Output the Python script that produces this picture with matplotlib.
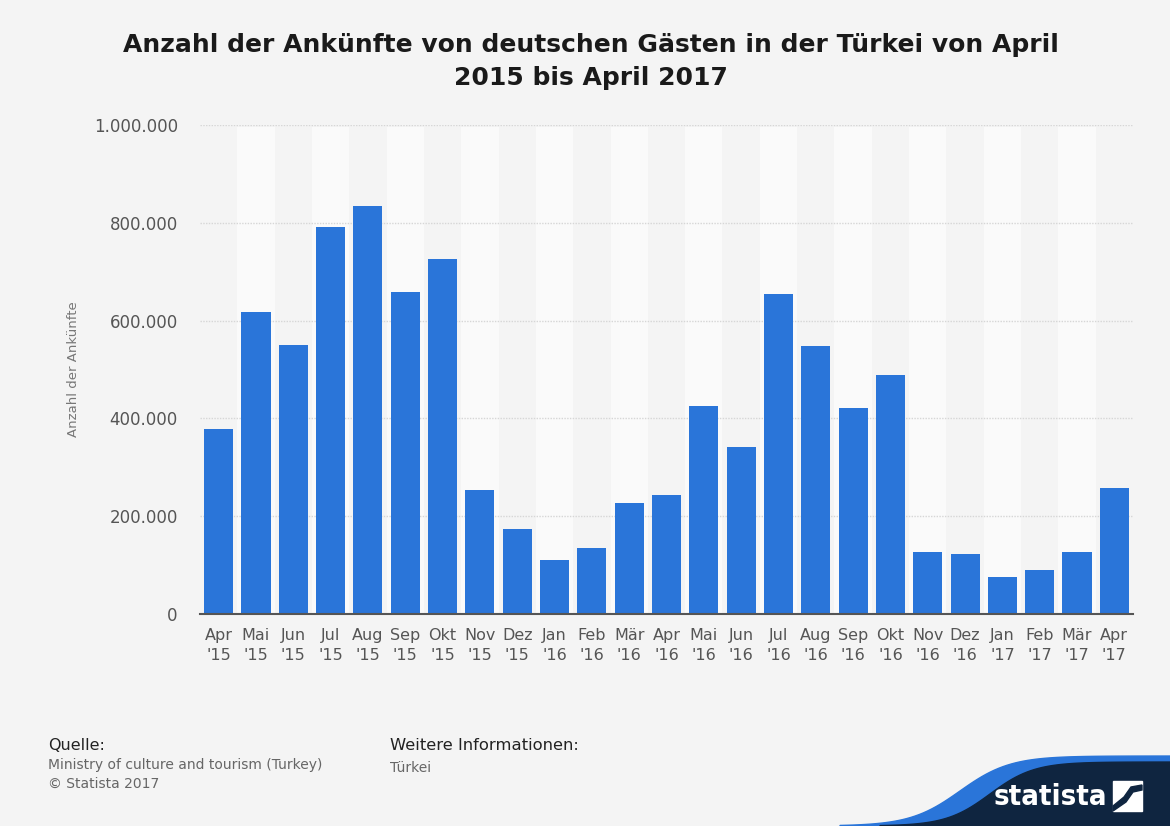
import matplotlib
matplotlib.use("Agg")
import matplotlib.pyplot as plt
from matplotlib.ticker import FuncFormatter
from matplotlib.patches import Polygon
import numpy as np

# Ankünfte deutscher Gäste in der Türkei, Apr 2015 - Apr 2017
months = ["Apr", "Mai", "Jun", "Jul", "Aug", "Sep", "Okt", "Nov", "Dez",
          "Jan", "Feb", "Mär", "Apr", "Mai", "Jun", "Jul", "Aug", "Sep",
          "Okt", "Nov", "Dez", "Jan", "Feb", "Mär", "Apr"]
years = ["'15"] * 9 + ["'16"] * 12 + ["'17"] * 4
arrivals = [378000, 618000, 551000, 791000, 835000, 658000, 725000,
            253000, 174000, 110000, 135000, 228000, 244000, 425000,
            342000, 654000, 549000, 422000, 488000, 126000, 123000,
            75000, 91000, 126000, 258000]
yticks = [0, 200000, 400000, 600000, 800000, 1000000]

BG = "#f4f4f4"
BAR = "#2a75d9"
NAVY = "#0f2540"

W, H = 1170, 826
fig = plt.figure(figsize=(W / 100, H / 100), dpi=100, facecolor=BG)
ax = fig.add_axes([200 / W, 1 - 614 / H, 933 / W, 489 / H])
ax.set_facecolor(BG)

x = np.arange(len(arrivals))
# alternating column bands
for i in x:
    if i % 2 == 1:
        ax.axvspan(i - 0.5, i + 0.5, ymax=0.995, color="#fafafa", zorder=0, lw=0)

ax.bar(x, arrivals, width=0.78, color=BAR, zorder=3)

ax.set_xlim(-0.5, len(arrivals) - 0.5)
ax.set_ylim(0, 1000000)
ax.set_yticks(yticks)
ax.yaxis.set_major_formatter(FuncFormatter(lambda v, p: f"{int(v):,}".replace(",", ".")))
ax.grid(axis="y", color="#d6d6d6", linestyle=(0, (1, 1)), linewidth=1, zorder=1)
ax.set_xticks(x)
ax.set_xticklabels([f"{m}\n{y}" for m, y in zip(months, years)],
                   fontsize=11.5, color="#555555", linespacing=1.45)
for lbl in ax.get_yticklabels():
    lbl.set_fontsize(12)
    lbl.set_color("#555555")
ax.tick_params(axis="both", length=0)
ax.tick_params(axis="y", pad=16)
ax.tick_params(axis="x", pad=10)

for side in ["top", "right", "left"]:
    ax.spines[side].set_visible(False)
ax.spines["bottom"].set_color("#555555")
ax.spines["bottom"].set_linewidth(1.5)
ax.spines["bottom"].set_zorder(4)

ax.set_ylabel("Anzahl der Ankünfte", fontsize=9.5, color="#777777")
ax.yaxis.set_label_coords((80 - 200) / 933, 0.5)

fig.text(0.505, 1 - 45 / H, "Anzahl der Ankünfte von deutschen Gästen in der Türkei von April",
         ha="center", va="center", fontsize=18, fontweight="bold", color="#1a1a1a")
fig.text(0.505, 1 - 78 / H, "2015 bis April 2017",
         ha="center", va="center", fontsize=18, fontweight="bold", color="#1a1a1a")

# footer
fig.text(48 / W, 1 - 745 / H, "Quelle:", fontsize=11.5, color="#222222", va="center")
fig.text(48 / W, 1 - 765 / H, "Ministry of culture and tourism (Turkey)",
         fontsize=10, color="#666666", va="center")
fig.text(48 / W, 1 - 784 / H, "© Statista 2017", fontsize=10, color="#666666", va="center")
fig.text(390 / W, 1 - 746 / H, "Weitere Informationen:", fontsize=11.8, color="#222222", va="center")
fig.text(390 / W, 1 - 768 / H, "Türkei", fontsize=10, color="#666666", va="center")


# statista logo swoosh
def fc(px, py):
    return (px / W, 1 - py / H)


xs = np.linspace(840, 1170, 80)
top_blue = 826 - 70 / (1 + np.exp(-(xs - 960) / 25))
xs2 = np.linspace(880, 1170, 80)
top_dark = 826 - 64 / (1 + np.exp(-(xs2 - 990) / 22))
fig.patches.append(Polygon([fc(a, b) for a, b in zip(xs, top_blue)] + [fc(W, H), fc(840, H)],
                           closed=True, transform=fig.transFigure, color="#2a75d9", zorder=0))
fig.patches.append(Polygon([fc(a, b) for a, b in zip(xs2, top_dark)] + [fc(W, H), fc(880, H)],
                           closed=True, transform=fig.transFigure, color=NAVY, zorder=1))
fig.text(1050 / W, 1 - 797 / H, "statista", fontsize=21, fontweight="bold",
         fontstretch="condensed", color="white", ha="center", va="center", zorder=5)
fig.patches.append(plt.Rectangle(fc(1113, 811), 29 / W, 30 / H,
                                 transform=fig.transFigure, color="white", zorder=5))
fig.patches.append(Polygon([fc(1113, 806), fc(1124, 797), fc(1131, 787), fc(1142, 785),
                            fc(1142, 790), fc(1133, 792), fc(1126, 802), fc(1113, 811)],
                           closed=True, transform=fig.transFigure, color=NAVY, zorder=6))

fig.savefig("out.png", dpi=100, facecolor=BG)
